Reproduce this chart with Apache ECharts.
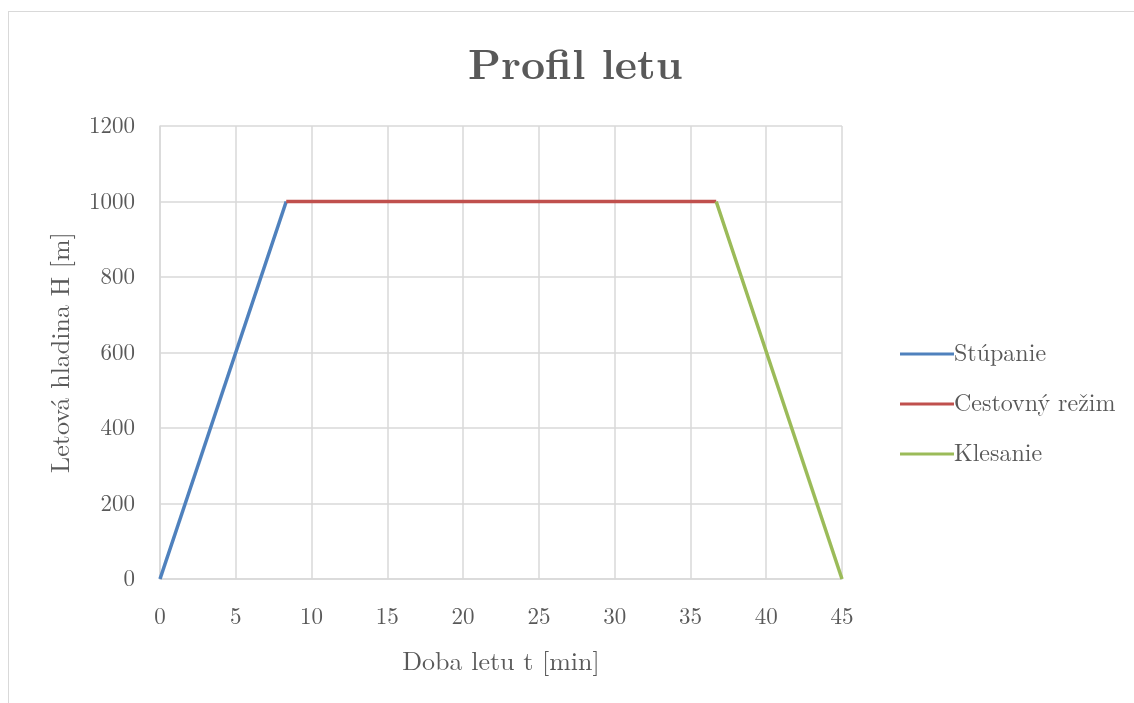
<!DOCTYPE html>
<html>
<head>
<meta charset="utf-8">
<script src="https://cdn.jsdelivr.net/npm/echarts@6/dist/echarts.min.js"></script>
<style>
  html, body { margin: 0; padding: 0; background: #fff; }
  #frame {
    position: absolute; left: 8px; top: 11px; width: 1140px; height: 700px;
    border: 1px solid #d9d9d9; box-sizing: border-box;
  }
  #chart { position: absolute; left: 0; top: 0; width: 1134px; height: 703px; }
</style>
</head>
<body>
<div id="frame"></div>
<div id="chart"></div>
<script>
// time [min] and altitude [m] for each phase
const climbT = [0, 8.33];
const climbH = [0, 1000];
const cruiseT = [8.33, 36.7];
const cruiseH = [1000, 1000];
const descentT = [36.7, 45];
const descentH = [1000, 0];

const seriesNames = ['Stúpanie', 'Cestovný režim', 'Klesanie'];
const colors = ['#4F81BD', '#C0504D', '#9BBB59'];

const font = '"Latin Modern Roman", "CMU Serif", "DejaVu Serif", serif';
const pairs = (t, h) => t.map((v, i) => [v, h[i]]);

const chart = echarts.init(document.getElementById('chart'));
chart.setOption({
  animation: false,
  textStyle: { fontFamily: font },
  title: {
    text: 'Profil letu',
    left: 463,
    top: 40,
    textStyle: { fontFamily: font, fontSize: 42, fontWeight: 'bold', color: '#595959' }
  },
  legend: {
    orient: 'vertical',
    left: 895,
    top: 337,
    itemGap: 26,
    itemWidth: 54,
    itemHeight: 3,
    icon: 'rect',
    data: seriesNames,
    textStyle: { fontFamily: font, fontSize: 24, color: '#595959', padding: [0, 0, 0, -5] }
  },
  grid: { left: 160, right: 292, top: 126, bottom: 124 },
  xAxis: {
    type: 'value',
    min: 0, max: 45, interval: 5,
    name: 'Doba letu t [min]',
    nameLocation: 'middle',
    nameGap: 70,
    nameTextStyle: { fontFamily: font, fontSize: 26, color: '#595959' },
    axisLine: { show: true, lineStyle: { color: '#d9d9d9', width: 1.5 } },
    axisTick: { show: false },
    axisLabel: { fontFamily: font, fontSize: 23, color: '#595959', margin: 26 },
    splitLine: { show: true, lineStyle: { color: '#d9d9d9', width: 1.5 } }
  },
  yAxis: {
    type: 'value',
    min: 0, max: 1200, interval: 200,
    name: 'Letová hladina H [m]',
    nameLocation: 'middle',
    nameGap: 86,
    nameTextStyle: { fontFamily: font, fontSize: 26, color: '#595959' },
    axisLine: { show: true, lineStyle: { color: '#d9d9d9', width: 1.5 } },
    axisTick: { show: false },
    axisLabel: { fontFamily: font, fontSize: 23, color: '#595959', margin: 25, formatter: v => String(v) },
    splitLine: { show: true, lineStyle: { color: '#d9d9d9', width: 1.5 } }
  },
  series: [
    { name: seriesNames[0], data: pairs(climbT, climbH) },
    { name: seriesNames[1], data: pairs(cruiseT, cruiseH) },
    { name: seriesNames[2], data: pairs(descentT, descentH) }
  ].map((s, i) => ({
    ...s,
    type: 'line',
    showSymbol: false,
    color: colors[i],
    lineStyle: { width: 3.5, color: colors[i] }
  }))
});
</script>
</body>
</html>
